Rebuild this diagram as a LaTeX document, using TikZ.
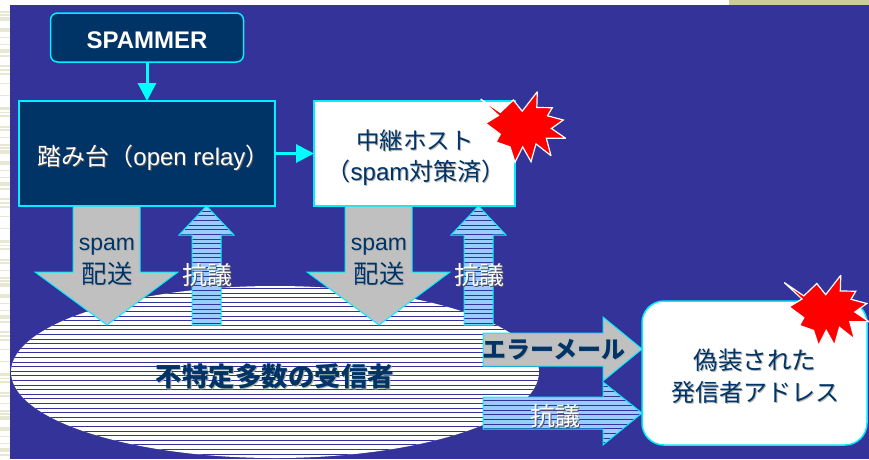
\documentclass[tikz,border=0pt]{standalone}
\usepackage{fontspec}
\setmainfont{Liberation Sans}
\newfontfamily\cjk{Noto Sans CJK JP}
\usetikzlibrary{arrows.meta}
\definecolor{bgblue}{HTML}{333399}
\definecolor{navy}{HTML}{003366}
\definecolor{cya}{HTML}{00EEFF}
\definecolor{cyb}{HTML}{00FFFF}
\definecolor{ltblue}{HTML}{99CCFF}
\definecolor{grayf}{HTML}{C0C0C0}
\definecolor{cream}{HTML}{CCCC99}
\definecolor{stripe}{HTML}{E8E8D2}
\newcommand{\fs}[1]{\fontsize{#1}{#1}\selectfont}
% text with a soft drop shadow
\newcommand{\shW}[1]{\rlap{\kern1pt\raisebox{-1pt}{\textcolor{black!65}{#1}}}\textcolor{white}{#1}}
\newcommand{\shN}[1]{\rlap{\kern1pt\raisebox{-1pt}{\textcolor{black!30}{#1}}}\textcolor{navy}{#1}}
\newcommand{\hatchin}[4]{% clip path, xmin, xmax, y list
  \begin{scope}\clip #1;
  \foreach \yy in {#4}{\draw[bgblue,line width=0.75pt] (#2,\yy) -- (#3,\yy);}
  \end{scope}}
\tikzset{
  x=1pt,y=-1pt,
  every node/.style={inner sep=0pt,outer sep=0pt},
  box/.style={draw=cya,line width=1.5pt,anchor=center},
  link/.style={cyb,line width=3pt,-{Triangle[width=18pt,length=18pt]}},
  gray arrow/.style={fill=grayf,draw=cya,line width=1pt,line join=miter},
  blue arrow/.style={draw=cya,line width=1pt,line join=miter},
  burst/.style={fill=red,draw=white,line width=1.2pt,miter limit=3},
}
\newcommand{\burstpath}{(5.7,14) -- (25.3,27.4) -- (38.3,15) -- (47.2,26.2) -- (62.3,6.7) -- (61.8,22.5) -- (77.3,22.7) -- (72.5,30.8) -- (88.3,35) -- (76.4,43.5) -- (90.7,53.3) -- (71.3,53.2) -- (76,70.7) -- (61,58.9) -- (56,76.7) -- (47.7,61.9) -- (40,77.3) -- (35,61.9) -- (21,57) -- (25.3,49.2) -- (10.7,38.3) -- (23.5,30.5) -- cycle}
\begin{document}
\begin{tikzpicture}
\useasboundingbox (0,0) rectangle (869,459);
% page
\fill[white] (0,0) rectangle (869,459);
\fill[cream] (729,0) rectangle (869,5);
\foreach \o in {11,144,277,410}{
  \foreach \a/\b in {0/2,3/5,6/10,17/21,26/27,33/34,38/42,44/46,54/56,58/60,62/64,72/73,84/85,96/99,101/102,104/106,115/117,118/120,126/127}
    \fill[stripe] (0,{\o+\a}) rectangle (10,{\o+\b});
}
\fill[bgblue] (10,5) rectangle (869,459);
% receivers ellipse
\fill[white] (275,372) ellipse [x radius=264,y radius=86];
\hatchin{(275,372) ellipse [x radius=264,y radius=86]}{0}{560}{288.4,293.0,...,460}
% boxes
\node[box,fill=navy,rounded corners=7pt,minimum width=193pt,minimum height=49pt] (spammer) at (147,37.5) {};
\node[box,fill=navy,minimum width=256pt,minimum height=105pt] (relay) at (147,153.5) {};
\node[box,fill=white,minimum width=201pt,minimum height=105pt] (host) at (414.5,153.5) {};
\node[box,fill=white,rounded corners=22pt,minimum width=225pt,minimum height=144pt] (forged) at (754.5,373) {};
\draw[link] (spammer) -- (relay);
\draw[link] (relay) -- (host);
% block arrows
\draw[gray arrow] (73,206) -- (140,206) -- (140,272) -- (178,272) -- (107,325) -- (35,272) -- (73,272) -- cycle;
\draw[gray arrow] (345,206) -- (412,206) -- (412,272) -- (450,272) -- (379,325) -- (307,272) -- (345,272) -- cycle;
\newcommand{\upA}{(192,325) -- (221,325) -- (221,235) -- (234,235) -- (206.5,206) -- (179,235) -- (192,235) -- cycle}
\newcommand{\upB}{(464,325) -- (493,325) -- (493,235) -- (506,235) -- (478.5,206) -- (451,235) -- (464,235) -- cycle}
\newcommand{\rtB}{(483,397) -- (603,397) -- (603,382) -- (642,413) -- (603,445) -- (603,429) -- (483,429) -- cycle}
\fill[ltblue] \upA; \hatchin{\upA}{170}{240}{211,215.67,...,326}\draw[blue arrow] \upA;
\fill[ltblue] \upB; \hatchin{\upB}{445}{510}{211,215.67,...,326}\draw[blue arrow] \upB;
\draw[gray arrow] (483,333) -- (603,333) -- (603,317) -- (642,349) -- (603,381) -- (603,366) -- (483,366) -- cycle;
\fill[ltblue] \rtB; \hatchin{\rtB}{480}{645}{382,386.67,...,446}\draw[blue arrow] \rtB;
% bursts
\draw[burst,shift={(475,85)}] \burstpath;
\draw[burst,shift={(778.5,268.5)}] \burstpath;
% labels
\node (t1) at (147,40) {\fs{24}\bfseries\textcolor{white}{SPAMMER}};
\node (t2) at (153.5,158) {\fs{24}\shW{{\cjk 踏み台（}open relay{\cjk ）}}};
\node (t3) at (415,141) {\fs{23.5}\cjk\shN{中継ホスト}};
\node (t4) at (416,173) {\fs{24}\shN{{\cjk （}spam{\cjk 対策済）}}};
\node (t5) at (107,247) {\fs{23}\shN{spam}};
\node (t6) at (107,274) {\fs{25.5}\cjk\shN{配送}};
\node (t7) at (207,276) {\fs{25}\cjk\shW{抗議}};
\node (t8) at (379,247) {\fs{23}\shN{spam}};
\node (t9) at (379,274) {\fs{25.5}\cjk\shN{配送}};
\node (t10) at (479,276) {\fs{25}\cjk\shW{抗議}};
\node (t11) at (275,377) {\fs{26.5}\cjk\bfseries\shN{不特定多数の受信者}};
\node (t12) at (554,350) {\fs{24}\cjk\bfseries\shN{エラーメール}};
\node (t13) at (555,417) {\fs{25}\cjk\shW{抗議}};
\node (t14) at (755,361) {\fs{24.5}\cjk\shN{偽装された}};
\node (t15) at (755,393) {\fs{24}\cjk\shN{発信者アドレス}};
\end{tikzpicture}
\end{document}
